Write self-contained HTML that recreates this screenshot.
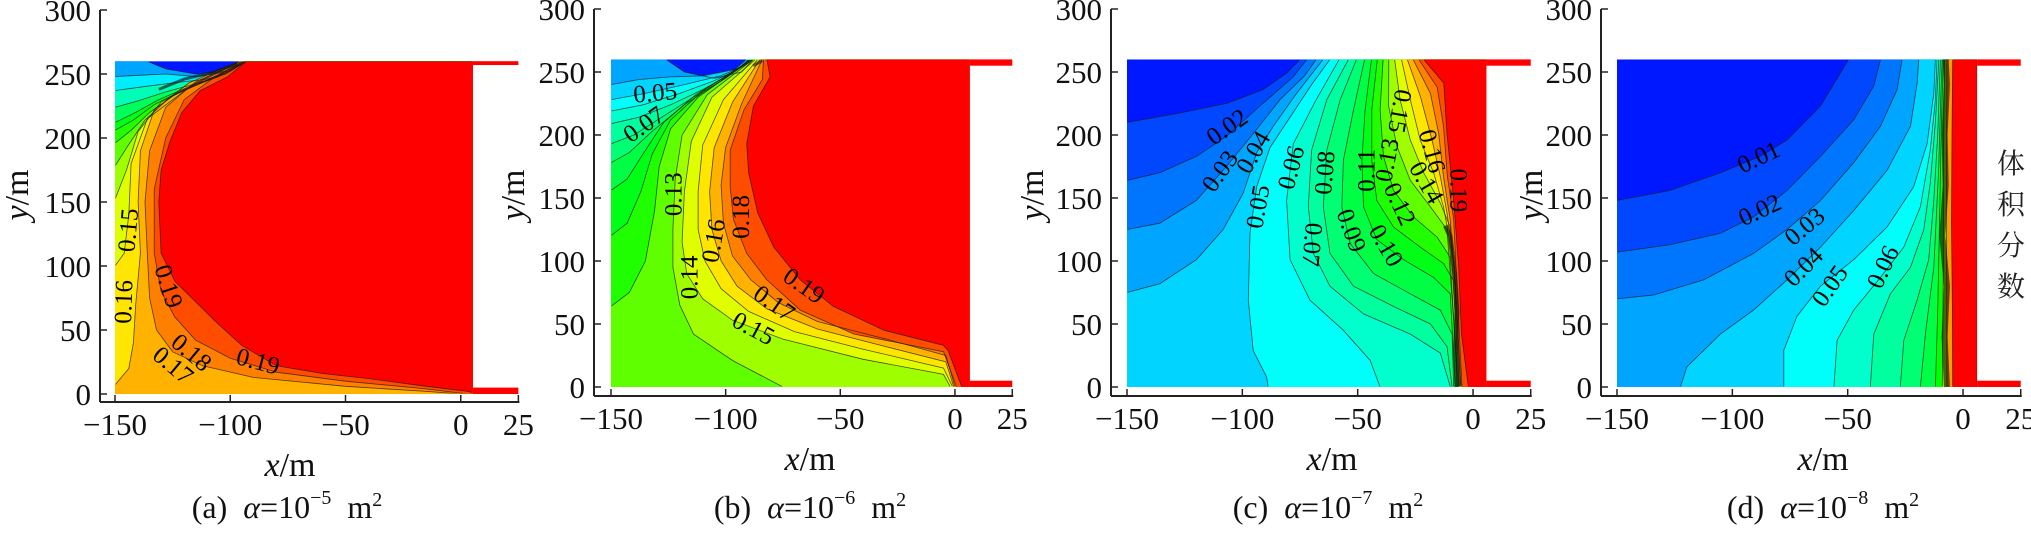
<!DOCTYPE html>
<html><head><meta charset="utf-8"><title>Volume fraction contours</title>
<style>
html,body{margin:0;padding:0;background:#fff;}
body{width:2031px;height:533px;overflow:hidden;position:relative;}
svg{position:absolute;left:0;top:0;font-family:"Liberation Serif","Noto Serif CJK SC",serif;}
</style></head>
<body>
<svg id="fig" width="2031" height="533" viewBox="0 0 2031 533" xmlns="http://www.w3.org/2000/svg">
<defs id="defs"></defs>
<text x="2011" y="173" font-size="28" text-anchor="middle" fill="#222" font-family="'Liberation Serif','Noto Serif CJK SC',serif">体</text>
<text x="2011" y="214" font-size="28" text-anchor="middle" fill="#222" font-family="'Liberation Serif','Noto Serif CJK SC',serif">积</text>
<text x="2011" y="255" font-size="28" text-anchor="middle" fill="#222" font-family="'Liberation Serif','Noto Serif CJK SC',serif">分</text>
<text x="2011" y="296" font-size="28" text-anchor="middle" fill="#222" font-family="'Liberation Serif','Noto Serif CJK SC',serif">数</text>
</svg>
<script>
// ---------- DATA ----------
const yTickValues = [0,50,100,150,200,250,300];
const xTickValues = [-150,-100,-50,0,25];
const xTickLabels = ["\u2212150","\u2212100","\u221250","0","25"];
const panelIds = ["a","b","c","d"];
const panelExponents = ["\u22125","\u22126","\u22127","\u22128"];
const panelBaseValues = [0.005,0.005,0.005,0.005];
const panelRightEdges = [5.3,6.5,5.8,6.1];

// panel (a)
const levelsA = [0.03,0.04,0.06,0.08,0.10,0.11,0.12,0.13,0.14,0.15,0.16,0.17,0.18,0.19];
const contoursA = [
 [[-150,260],[-136,260],[-128,254],[-115,250],[-102,252],[-94,260],[5.3,260],[5.3,0],[-150,0]],
 [[-150,248],[-140,249],[-128,250],[-115,248],[-104,251],[-95,258],[-93,260],[5.3,260],[5.3,0],[-150,0]],
 [[-150,237],[-138,240],[-125,243],[-110,246],[-100,252],[-93,260],[5.3,260],[5.3,0],[-150,0]],
 [[-150,224],[-140,229],[-128,236],[-114,243],[-102,250],[-93,260],[5.3,260],[5.3,0],[-150,0]],
 [[-150,212],[-141,220],[-131,230],[-118,240],[-104,249],[-93,260],[5.3,260],[5.3,0],[-150,0]],
 [[-150,206],[-142,214],[-133,226],[-120,238],[-105,248],[-93,260],[5.3,260],[5.3,0],[-150,0]],
 [[-150,196],[-143,206],[-135,220],[-123,235],[-107,247],[-94,260],[5.3,260],[5.3,0],[-150,0]],
 [[-150,178],[-144,195],[-137,214],[-126,232],[-109,246],[-94,260],[5.3,260],[5.3,0],[-150,0]],
 [[-150,152],[-145,175],[-140,205],[-130,228],[-112,245],[-95,260],[5.3,260],[5.3,0],[-150,0]],
 [[-150,100],[-146,110],[-144,140],[-143,180],[-136,215],[-116,242],[-96,260],[5.3,260],[5.3,0],[-150,0]],
 [[-96,260],[-118,243],[-133,222],[-139,190],[-140,150],[-139,110],[-141,70],[-142,40],[-144,20],[-150,7],[-150,0],[5.3,0],[5.3,260]],
 [[-95,260],[-115,244],[-128,224],[-135,190],[-137,150],[-136,110],[-135,75],[-132,50],[-125,33],[-112,22],[-90,13],[-50,6],[-15,2],[0,0],[5.3,0],[5.3,260]],
 [[-94,260],[-108,246],[-120,230],[-128,200],[-133,160],[-133,110],[-130,80],[-124,60],[-115,42],[-100,28],[-80,17],[-50,10],[-15,4],[3,0],[5.3,0],[5.3,260]],
 [[-93,260],[-101,248],[-113,237],[-121,220],[-126,198],[-130,175],[-131,150],[-130,110],[-124,88],[-115,72],[-106,56],[-95,38],[-80,22],[-60,16],[-40,12],[-15,6],[3,2],[5.3,1],[5.3,260]]
];
const labelTextA = ["0.15","0.16","0.19","0.18","0.17","0.19"];
const labelPosA = [[-144,128],[-146,72],[-127,84],[-117,32],[-125,22],[-88,25]];
const labelRotA = [-85,-88,72,40,40,15];
const wallA = [[-131,238],[-120,246],[-108,251],[-97,258]];

// panel (b)
const levelsB = [0.03,0.04,0.05,0.06,0.07,0.08,0.09,0.10,0.11,0.12,0.13,0.14,0.15,0.16,0.17,0.18,0.19];
const contoursB = [
 [[-150,260],[-126,260],[-118,250],[-105,245],[-93,250],[-88,260],[6.5,260],[6.5,0],[-150,0]],
 [[-150,240],[-138,244],[-125,246],[-110,247],[-96,252],[-91,260],[6.5,260],[6.5,0],[-150,0]],
 [[-150,228],[-135,233],[-118,240],[-102,247],[-92,255],[-90,260],[6.5,260],[6.5,0],[-150,0]],
 [[-150,219],[-136,224],[-120,233],[-105,243],[-95,252],[-90,260],[6.5,260],[6.5,0],[-150,0]],
 [[-150,209],[-138,214],[-124,224],[-110,236],[-98,248],[-90,259],[-89,260],[6.5,260],[6.5,0],[-150,0]],
 [[-150,193],[-140,200],[-128,214],[-114,230],[-100,245],[-89,260],[6.5,260],[6.5,0],[-150,0]],
 [[-150,178],[-142,186],[-132,203],[-118,224],[-102,243],[-89,260],[6.5,260],[6.5,0],[-150,0]],
 [[-150,156],[-143,165],[-136,185],[-127,210],[-113,232],[-98,249],[-89,260],[6.5,260],[6.5,0],[-150,0]],
 [[-150,120],[-143,130],[-137,155],[-132,185],[-124,212],[-110,235],[-97,250],[-88,260],[6.5,260],[6.5,0],[-150,0]],
 [[-150,64],[-142,75],[-135,100],[-131,140],[-129,175],[-124,205],[-112,230],[-98,248],[-88,260],[6.5,260],[6.5,0],[-150,0]],
 [[-88,260],[-108,232],[-119,200],[-122,165],[-123,125],[-123,95],[-120,65],[-114,42],[-97,21],[-75,0],[6.5,0],[6.5,260]],
 [[-87,260],[-106,230],[-115,195],[-118,155],[-119,115],[-117,90],[-110,70],[-97,53],[-75,38],[-40,22],[-5,10],[-2,0],[6.5,0],[6.5,260]],
 [[-86,260],[-101,228],[-110,192],[-112,155],[-112,125],[-109,100],[-102,78],[-90,60],[-70,44],[-40,30],[-5,15],[-1,0],[6.5,0],[6.5,260]],
 [[-85,260],[-97,226],[-105,190],[-107,155],[-106,125],[-102,100],[-95,80],[-82,62],[-60,46],[-30,32],[-4,20],[-0.5,0],[6.5,0],[6.5,260]],
 [[-84,260],[-93,225],[-100,190],[-102,160],[-101,130],[-97,104],[-89,85],[-77,67],[-60,52],[-30,38],[-4,25],[0,0],[6.5,0],[6.5,260]],
 [[-83.5,260],[-84,244],[-92,220],[-98,188],[-98,159],[-96.6,133],[-90.8,106],[-82,85],[-67.5,61],[-44,42],[-5,28],[0.7,0],[6.5,0],[6.5,260]],
 [[-82,260],[-80.6,246],[-87.9,223],[-90.8,193],[-90,170],[-86,138],[-79,111],[-67.5,85],[-53,64],[-31,45],[-5,33],[-3,29],[3,0],[6.5,0],[6.5,260]]
];
const labelTextB = ["0.05","0.07","0.13","0.16","0.18","0.14","0.19","0.17","0.15"];
const labelPosB = [[-130.7,233],[-135.5,208],[-122.5,153],[-105,116],[-93,135],[-115.5,87],[-66,80],[-79,66],[-88,46]];
const labelRotB = [-5,-35,-90,-80,-90,-90,35,35,28];
const wallB = [[-88,255],[-84,259]];

// panel (c)
const levelsC = [0.01,0.02,0.03,0.04,0.05,0.06,0.07,0.08,0.09,0.10,0.11,0.12,0.13,0.14,0.15,0.16,0.17,0.18,0.19];
const contoursC = [
 [[-150,210],[-128.6,217],[-106.9,225],[-91,236],[-80.9,249],[-75,260],[5.8,260],[5.8,0],[-150,0]],
 [[-150,164],[-135.8,170],[-119.9,183],[-106.9,199],[-92.4,223],[-78,246],[-72,260],[5.8,260],[5.8,0],[-150,0]],
 [[-150,125],[-135.8,130],[-119.9,148],[-106.9,175],[-95.3,201],[-83.7,228],[-73,247],[-68,260],[5.8,260],[5.8,0],[-150,0]],
 [[-150,75],[-135.8,82],[-119.9,101],[-108.3,125],[-99.6,154],[-93.8,186],[-86.6,207],[-76.5,233],[-65,260],[5.8,260],[5.8,0],[-150,0]],
 [[-62,260],[-70,240],[-79,215],[-88,190],[-93.8,159],[-96.7,122],[-97.4,69],[-95.3,29],[-89.5,8],[-88.8,0],[5.8,0],[5.8,260]],
 [[-58,260],[-68,228],[-77.9,193],[-80.8,148],[-79.3,101],[-70.7,69],[-56.2,45],[-44.6,21],[-40.3,0],[5.8,0],[5.8,260]],
 [[-54,260],[-63.4,228],[-70,188],[-71.4,143],[-69.2,106],[-62,80],[-47.5,58],[-27.2,42],[-14.2,27],[-9.8,0],[5.8,0],[5.8,260]],
 [[-50.5,260],[-57.6,228],[-63.4,188],[-64.9,143],[-62,106],[-51.8,80],[-34.5,64],[-18.5,50],[-11.3,32],[-9.1,0],[5.8,0],[5.8,260]],
 [[-47,260],[-51.8,220],[-56.2,180],[-56.9,143],[-53.3,114],[-43.1,90],[-27.2,74],[-14.2,61],[-9.1,42],[-8.4,0],[5.8,0],[5.8,260]],
 [[-44,260],[-46.8,220],[-48.2,180],[-47.5,143],[-41.7,117],[-30.1,101],[-17.1,87],[-9.9,74],[-7.7,0],[5.8,0],[5.8,260]],
 [[-41.5,260],[-43.9,220],[-43.9,180],[-41.7,148],[-34.5,127],[-22.9,111],[-12.8,98],[-7.7,82],[-7,0],[5.8,0],[5.8,260]],
 [[-39,260],[-40.3,220],[-38.8,183],[-34.5,156],[-25.8,135],[-15.6,119],[-9.9,103],[-6.7,0],[5.8,0],[5.8,260]],
 [[-36.5,260],[-36.6,223],[-33,191],[-27.2,164],[-18.5,143],[-11.3,125],[-6.2,0],[5.8,0],[5.8,260]],
 [[-34,260],[-31.6,228],[-27.2,196],[-21.4,170],[-14.2,146],[-9.9,127],[-5.9,0],[5.8,0],[5.8,260]],
 [[-31,260],[-27.2,228],[-22.9,196],[-17.1,170],[-12.8,143],[-8.5,100],[-5.6,0],[5.8,0],[5.8,260]],
 [[-28.5,260],[-22.9,231],[-17.8,196],[-14.2,167],[-11.3,138],[-8,95],[-5.4,0],[5.8,0],[5.8,260]],
 [[-26,260],[-18.5,233],[-14.9,201],[-12.8,167],[-9.9,133],[-7.6,80],[-5.2,0],[5.8,0],[5.8,260]],
 [[-23.5,260],[-15.6,238],[-12.8,207],[-11.1,167],[-8.4,133],[-7,80],[-4.8,0],[5.8,0],[5.8,260]],
 [[-21.4,260],[-12.7,241],[-11.3,201],[-8.4,148],[-6.2,95],[-5,42],[-2,0],[5.8,0],[5.8,260]]
];
const labelTextC = ["0.02","0.03","0.04","0.05","0.06","0.08","0.11","0.13","0.15","0.16","0.19","0.07","0.09","0.10","0.12","0.14"];
const labelPosC = [[-106.5,206],[-109.5,171],[-95,186],[-93,143],[-78.6,174],[-64,170],[-46,172],[-37,180],[-32,219],[-18,187],[-6.5,156],[-70,113],[-53,124],[-38,112],[-32,145],[-20.5,162]];
const labelRotC = [-35,-55,-60,-80,-75,-85,-90,-80,100,75,90,95,70,60,65,60];
const wallC = [[-7,0],[-7.5,30],[-7,60],[-8,90],[-10,120],[-12,128]];

// panel (d)
const levelsD = [0.01,0.02,0.03,0.04,0.05,0.06,0.07,0.08,0.09,0.10,0.12,0.15,0.19];
const contoursD = [
 [[-150,148],[-126.9,156],[-105.2,170],[-87.9,183],[-76.3,196],[-61.8,223],[-49.6,260],[6.1,260],[6.1,0],[-150,0]],
 [[-150,107],[-126.9,113],[-105.2,122],[-90.8,135],[-76.3,156],[-61.8,183],[-47.4,212],[-38.7,239],[-35.8,260],[6.1,260],[6.1,0],[-150,0]],
 [[-150,70],[-134.1,73],[-112.4,85],[-90.8,106],[-76.3,125],[-61.8,148],[-47.4,178],[-35.8,207],[-28.6,236],[-26.4,260],[6.1,260],[6.1,0],[-150,0]],
 [[-19.2,260],[-19.9,241],[-22.8,207],[-32.9,172],[-47.4,140],[-61.8,111],[-76.3,85],[-90.8,61],[-105.2,42],[-119.7,16],[-122.5,0],[6.1,0],[6.1,260]],
 [[-12,260],[-12.7,233],[-15.6,193],[-21.4,159],[-32.9,127],[-47.4,101],[-61.8,80],[-72,56],[-77.7,29],[-77.7,0],[6.1,0],[6.1,260]],
 [[-11.3,260],[-12,228],[-14.2,188],[-18.5,143],[-25.7,111],[-35.8,87],[-47.4,61],[-54.6,37],[-56,0],[6.1,0],[6.1,260]],
 [[-10.5,260],[-12,210],[-14.2,162],[-17,125],[-22.8,95],[-31.5,74],[-38.7,42],[-40.2,0],[6.1,0],[6.1,260]],
 [[-9.8,260],[-11,200],[-12.7,148],[-14.9,101],[-19.9,69],[-25.7,37],[-27.2,0],[6.1,0],[6.1,260]],
 [[-9.1,260],[-10,210],[-10.5,175],[-12.7,95],[-16.3,42],[-18.5,0],[6.1,0],[6.1,260]],
 [[-8.6,260],[-9.5,200],[-10,150],[-11,60],[-12,0],[6.1,0],[6.1,260]],
 [[-8,260],[-8.5,180],[-8.5,100],[-9,0],[6.1,0],[6.1,260]],
 [[-7,260],[-7.2,150],[-7,0],[6.1,0],[6.1,260]],
 [[-4.5,260],[-4.8,200],[-5,130],[-4.6,60],[-4.5,0],[6.1,0],[6.1,260]]
];
const labelTextD = ["0.01","0.02","0.03","0.04","0.05","0.06"];
const labelPosD = [[-88.5,182],[-88,140],[-68.5,127],[-69,95],[-57.5,80],[-34.5,95]];
const labelRotD = [-25,-25,-40,-45,-55,-65];
const wallD = [[-7,0],[-8,40],[-7,80],[-9,120],[-7.5,160],[-8,200],[-7,240],[-7.5,260]];

const panelLevels = [levelsA,levelsB,levelsC,levelsD];
const panelContours = [contoursA,contoursB,contoursC,contoursD];
const panelLabelText = [labelTextA,labelTextB,labelTextC,labelTextD];
const panelLabelPos = [labelPosA,labelPosB,labelPosC,labelPosD];
const panelLabelRot = [labelRotA,labelRotB,labelRotC,labelRotD];
const panelWalls = [wallA,wallB,wallC,wallD];

// ---------- LAYOUT (pixel geometry, not data) ----------
const geom = [
 {x0:115, sx:2.305, y0:394, sy:1.28, axX:100, axY:402, capX:287, xlabX:290},
 {x0:611, sx:2.293, y0:387, sy:1.26, axX:594, axY:396, capX:810, xlabX:810},
 {x0:1127, sx:2.307, y0:387, sy:1.26, axX:1111, axY:396, capX:1328, xlabX:1332},
 {x0:1617, sx:2.307, y0:387, sy:1.26, axX:1601, axY:396, capX:1823, xlabX:1823}
];
const yLabX = [17,513,1032,1531];

const NS = "http://www.w3.org/2000/svg";
const svg = document.getElementById("fig");
const defs = document.getElementById("defs");

function col(v){
  const st=[[0,0,0,255],[0.054,0,255,255],[0.11,0,255,0],[0.15,255,255,0],[0.2,255,0,0]];
  if(v>=0.2) return "rgb(255,0,0)";
  if(v<=0) return "rgb(0,0,255)";
  for(let i=0;i<st.length-1;i++){
    const a=st[i],b=st[i+1];
    if(v>=a[0]&&v<=b[0]){
      const t=(v-a[0])/(b[0]-a[0]);
      return "rgb("+Math.round(a[1]+(b[1]-a[1])*t)+","+Math.round(a[2]+(b[2]-a[2])*t)+","+Math.round(a[3]+(b[3]-a[3])*t)+")";
    }
  }
  return "red";
}
function mk(tag, attrs){
  const e=document.createElementNS(NS,tag);
  for(const k in attrs) e.setAttribute(k,attrs[k]);
  return e;
}

panelIds.forEach((pid,pi)=>{
  const g=geom[pi];
  const X=v=>g.x0+(v+150)*g.sx;
  const Y=v=>g.y0-v*g.sy;
  const xr=panelRightEdges[pi];
  const grp=mk("g",{});
  
  
  svg.appendChild(grp);

  const cp=mk("clipPath",{id:"clip-"+pid});
  cp.appendChild(mk("rect",{x:X(-150)+0.6,y:Y(260)+0.6,width:X(xr)-X(-150)-1.2,height:Y(0)-Y(260)-1.2}));
  defs.appendChild(cp);
  const cpf=mk("clipPath",{id:"clipf-"+pid});
  cpf.appendChild(mk("rect",{x:X(-150),y:Y(260),width:X(xr)-X(-150),height:Y(0)-Y(260)}));
  defs.appendChild(cpf);

  const field=mk("g",{"clip-path":"url(#clipf-"+pid+")"});
  
  
  grp.appendChild(field);
  const base=mk("rect",{x:X(-150),y:Y(260),width:X(xr)-X(-150),height:Y(0)-Y(260),fill:col(panelBaseValues[pi])});
  
  
  field.appendChild(base);
  const lines=mk("g",{"clip-path":"url(#clip-"+pid+")"});
  const levels=panelLevels[pi];
  panelContours[pi].forEach((pts,li)=>{
    const L=levels[li];
    const next = li<levels.length-1 ? levels[li+1] : 0.2;
    const c = li===levels.length-1 ? "rgb(255,0,0)" : col((L+next)/2);
    const d=pts.map((p,k)=>(k?"L":"M")+X(p[0]).toFixed(1)+" "+Y(p[1]).toFixed(1)).join(" ")+"Z";
    const poly=mk("path",{d:d,fill:c});
    
    
    field.appendChild(poly);
    const ln=mk("path",{d:d,fill:"none",stroke:"#1a1a1a","stroke-width":0.8,"stroke-opacity":0.75});
    
    
    lines.appendChild(ln);
  });
  grp.appendChild(lines);
  const w=panelWalls[pi];
  const wd=w.map((p,k)=>(k?"L":"M")+X(p[0]).toFixed(1)+" "+Y(p[1]).toFixed(1)).join(" ");
  const wall=mk("path",{d:wd,fill:"none",stroke:"#141414","stroke-width":pi===3?6:(pi===2?5:3),"stroke-opacity":0.65,"stroke-linejoin":"round"});
  
  
  grp.appendChild(wall);

  const topH = pi===0?3:5;
  const rb1=mk("rect",{x:X(xr),y:Y(260),width:X(25)-X(xr),height:topH*g.sy,fill:"#ff0000"});
  
  
  grp.appendChild(rb1);
  const rb2=mk("rect",{x:X(xr),y:Y(5),width:X(25)-X(xr),height:5*g.sy,fill:"#ff0000"});
  
  
  grp.appendChild(rb2);

  panelLabelText[pi].forEach((t,k)=>{
    const p=panelLabelPos[pi][k];
    const tx=mk("text",{x:X(p[0]),y:Y(p[1]),"font-size":25,"text-anchor":"middle","dominant-baseline":"central",fill:"#000",transform:"rotate("+panelLabelRot[pi][k]+" "+X(p[0])+" "+Y(p[1])+")"});
    
    
    tx.textContent=t;
    grp.appendChild(tx);
  });

  const yAxis=mk("line",{x1:g.axX,y1:Y(300),x2:g.axX,y2:g.axY,stroke:"#222","stroke-width":2});
  
  
  grp.appendChild(yAxis);
  const xAxis=mk("line",{x1:g.axX,y1:g.axY,x2:X(25)+1,y2:g.axY,stroke:"#222","stroke-width":2});
  
  
  grp.appendChild(xAxis);
  yTickValues.forEach(v=>{
    const tk=mk("line",{x1:g.axX,y1:Y(v),x2:g.axX+7,y2:Y(v),stroke:"#222","stroke-width":1.5});
    
    
    grp.appendChild(tk);
    const tl=mk("text",{x:g.axX-9,y:Y(v)+11,"font-size":31,"text-anchor":"end",fill:"#111"});
    
    
    tl.textContent=String(v);
    grp.appendChild(tl);
  });
  xTickValues.forEach((v,k)=>{
    const tk=mk("line",{x1:X(v),y1:g.axY,x2:X(v),y2:g.axY-7,stroke:"#222","stroke-width":1.5});
    
    
    grp.appendChild(tk);
    const tl=mk("text",{x:X(v),y:g.axY+33,"font-size":31,"text-anchor":"middle",fill:"#111"});
    
    
    tl.textContent=xTickLabels[k];
    grp.appendChild(tl);
  });
  const xt=mk("text",{x:g.xlabX,y:g.axY+74,"font-size":34,"text-anchor":"middle",fill:"#111"});
  
  
  xt.innerHTML='<tspan font-style="italic">x</tspan>/m';
  grp.appendChild(xt);
  const yt=mk("text",{x:0,y:0,"font-size":34,"text-anchor":"middle",fill:"#111",transform:"translate("+(yLabX[pi]+11)+" 195) rotate(-90)"});
  
  
  yt.innerHTML='<tspan font-style="italic">y</tspan>/m';
  grp.appendChild(yt);
  const cap=mk("text",{x:g.capX,y:518,"font-size":32,"text-anchor":"middle",fill:"#111"});
  
  
  cap.innerHTML='('+pid+')\u00a0\u00a0<tspan font-style="italic">\u03b1</tspan>=10<tspan dy="-14" font-size="20">'+panelExponents[pi]+'</tspan><tspan dy="14">\u00a0\u00a0m</tspan><tspan dy="-12" font-size="20">2</tspan>';
  grp.appendChild(cap);
});
</script>
</body></html>
